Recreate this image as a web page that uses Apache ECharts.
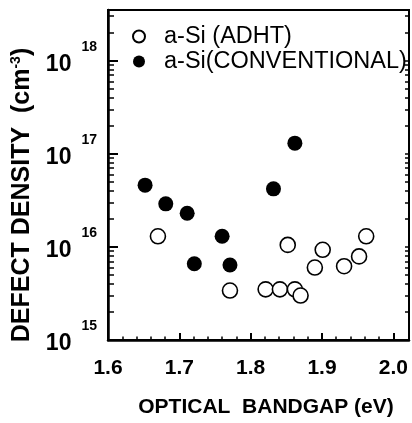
<!DOCTYPE html>
<html><head><meta charset="utf-8">
<script src="https://cdn.jsdelivr.net/npm/echarts@6/dist/echarts.min.js"></script>
<style>html,body{margin:0;padding:0;background:#fff}#c{width:412px;height:423px}</style>
</head><body><div id="c"></div>
<script>
// ---- data ----
const seriesNames = ['a-Si (ADHT)', 'a-Si(CONVENTIONAL)'];
const adhtGap      = [1.670, 1.771, 1.821, 1.841, 1.852, 1.862, 1.870, 1.890, 1.901, 1.931, 1.952, 1.962];
const adhtDensity  = [1.3e16, 3.4e15, 3.5e15, 3.5e15, 1.05e16, 3.5e15, 3.0e15, 6.0e15, 9.3e15, 6.2e15, 7.9e15, 1.3e16];
const convGap      = [1.652, 1.681, 1.711, 1.721, 1.760, 1.771, 1.832, 1.862];
const convDensity  = [4.6e16, 2.9e16, 2.3e16, 6.6e15, 1.3e16, 6.4e15, 4.2e16, 1.3e17];
const xTickLabels  = ['1.6', '1.7', '1.8', '1.9', '2.0'];
const xMinorTicks  = [1.62,1.64,1.66,1.68, 1.72,1.74,1.76,1.78, 1.82,1.84,1.86,1.88, 1.92,1.94,1.96,1.98];
const yDecadeExponents = [15, 16, 17, 18];
const yMinorMultipliers = [2, 3, 4, 5, 6, 7, 8, 9];
const xMin = 1.6, xMax = 2.022;
const yMin = 1e15, yMax = 3.5e18;

const FONT = 'Liberation Sans, Arial, Helvetica, sans-serif';
const lgMin = Math.log10(yMin), lgMax = Math.log10(yMax);
const yMinorLog = [];
yDecadeExponents.forEach(e => yMinorMultipliers.forEach(m => {
  const v = Math.log10(m) + e; if (v < lgMax) yMinorLog.push(v);
}));
const yAllLog = yDecadeExponents.map(e => e).concat(yMinorLog);

const chart = echarts.init(document.getElementById('c'), null, {renderer: 'canvas'});
const black = '#000';
chart.setOption({
  animation: false,
  backgroundColor: '#fff',
  grid: {left: 108, right: 3, top: 10, bottom: 76, show: true, borderColor: black, borderWidth: 2, backgroundColor: 'transparent'},
  legend: {
    orient: 'vertical', left: 132, top: 24, itemWidth: 12, itemHeight: 12, itemGap: 0, padding: 0,
    data: seriesNames,
    textStyle: {fontFamily: FONT, fontSize: 23.5, color: black, lineHeight: 25, padding: [0, 0, 0, 14]}
  },
  xAxis: [{
    type: 'value', min: xMin, max: xMax, interval: 0.1, position: 'bottom',
    axisLine: {show: true, onZero: false, lineStyle: {color: black, width: 2.5}},
    axisTick: {show: true, inside: true, length: 7, lineStyle: {color: black, width: 2}},
    splitLine: {show: false},
    axisLabel: {
      margin: 18, fontFamily: FONT, fontSize: 21, fontWeight: 'bold', color: black,
      formatter: v => { const s = v.toFixed(1); return (Math.abs(v * 10 - Math.round(v * 10)) < 1e-6 && xTickLabels.indexOf(s) >= 0) ? s : ''; }
    },
    name: 'OPTICAL  BANDGAP (eV)', nameLocation: 'middle', nameGap: 57,
    nameTextStyle: {fontFamily: FONT, fontSize: 21, fontWeight: 'bold', color: black, padding: [0, 0, 0, 15]}
  }, {
    type: 'value', min: xMin, max: xMax, position: 'bottom',
    axisLine: {show: false}, splitLine: {show: false}, axisLabel: {show: false},
    axisTick: {show: true, inside: true, length: 3.5, customValues: xMinorTicks, lineStyle: {color: black, width: 1.5}}
  }],
  yAxis: [{
    type: 'log', logBase: 10, min: yMin, max: yMax, position: 'left',
    axisLine: {show: true, onZero: false, lineStyle: {color: black, width: 2.5}},
    axisTick: {show: true, inside: true, length: 10, lineStyle: {color: black, width: 2}},
    splitLine: {show: false}, minorTick: {show: false},
    axisLabel: {
      margin: 11, padding: [8, 0, 0, 0],
      formatter: v => { const e = Math.log10(v); const r = Math.round(e);
        if (Math.abs(e - r) > 1e-6 || yDecadeExponents.indexOf(r) < 0) return '';
        return '{b|10}{s|' + r + '}'; },
      rich: {
        b: {fontFamily: FONT, fontSize: 23, fontWeight: 'bold', color: black, lineHeight: 50},
        s: {fontFamily: FONT, fontSize: 14, fontWeight: 'bold', color: black, lineHeight: 18, verticalAlign: 'top', padding: [0, 0, 0, 10]}
      }
    },
    name: '{t|DEFECT DENSITY  (cm}{s|-3}{t|)}', nameLocation: 'middle', nameRotate: 90, nameGap: 71,
    nameTextStyle: {
      padding: [0, 40, 0, 0],
      rich: {
        t: {fontFamily: FONT, fontSize: 25, fontWeight: 'bold', color: black, lineHeight: 27},
        s: {fontFamily: FONT, fontSize: 14, fontWeight: 'bold', color: black, lineHeight: 15, verticalAlign: 'top'}
      }
    }
  }, {
    type: 'value', min: lgMin, max: lgMax, position: 'left',
    axisLine: {show: false}, splitLine: {show: false}, axisLabel: {show: false},
    axisTick: {show: true, inside: true, length: 6, customValues: yMinorLog, lineStyle: {color: black, width: 1.5}}
  }, {
    type: 'value', min: lgMin, max: lgMax, position: 'right',
    axisLine: {show: false}, splitLine: {show: false}, axisLabel: {show: false},
    axisTick: {show: true, inside: true, length: 4, customValues: yAllLog, lineStyle: {color: black, width: 1.5}}
  }],
  series: [{
    name: seriesNames[0], type: 'scatter', xAxisIndex: 0, yAxisIndex: 0,
    symbol: 'circle', symbolSize: 15,
    itemStyle: {color: '#fff', borderColor: black, borderWidth: 1.6, opacity: 1},
    data: adhtGap.map((g, i) => [g, adhtDensity[i]])
  }, {
    name: seriesNames[1], type: 'scatter', xAxisIndex: 0, yAxisIndex: 0,
    symbol: 'circle', symbolSize: 15,
    itemStyle: {color: black, opacity: 1},
    data: convGap.map((g, i) => [g, convDensity[i]])
  }]
});
</script></body></html>
